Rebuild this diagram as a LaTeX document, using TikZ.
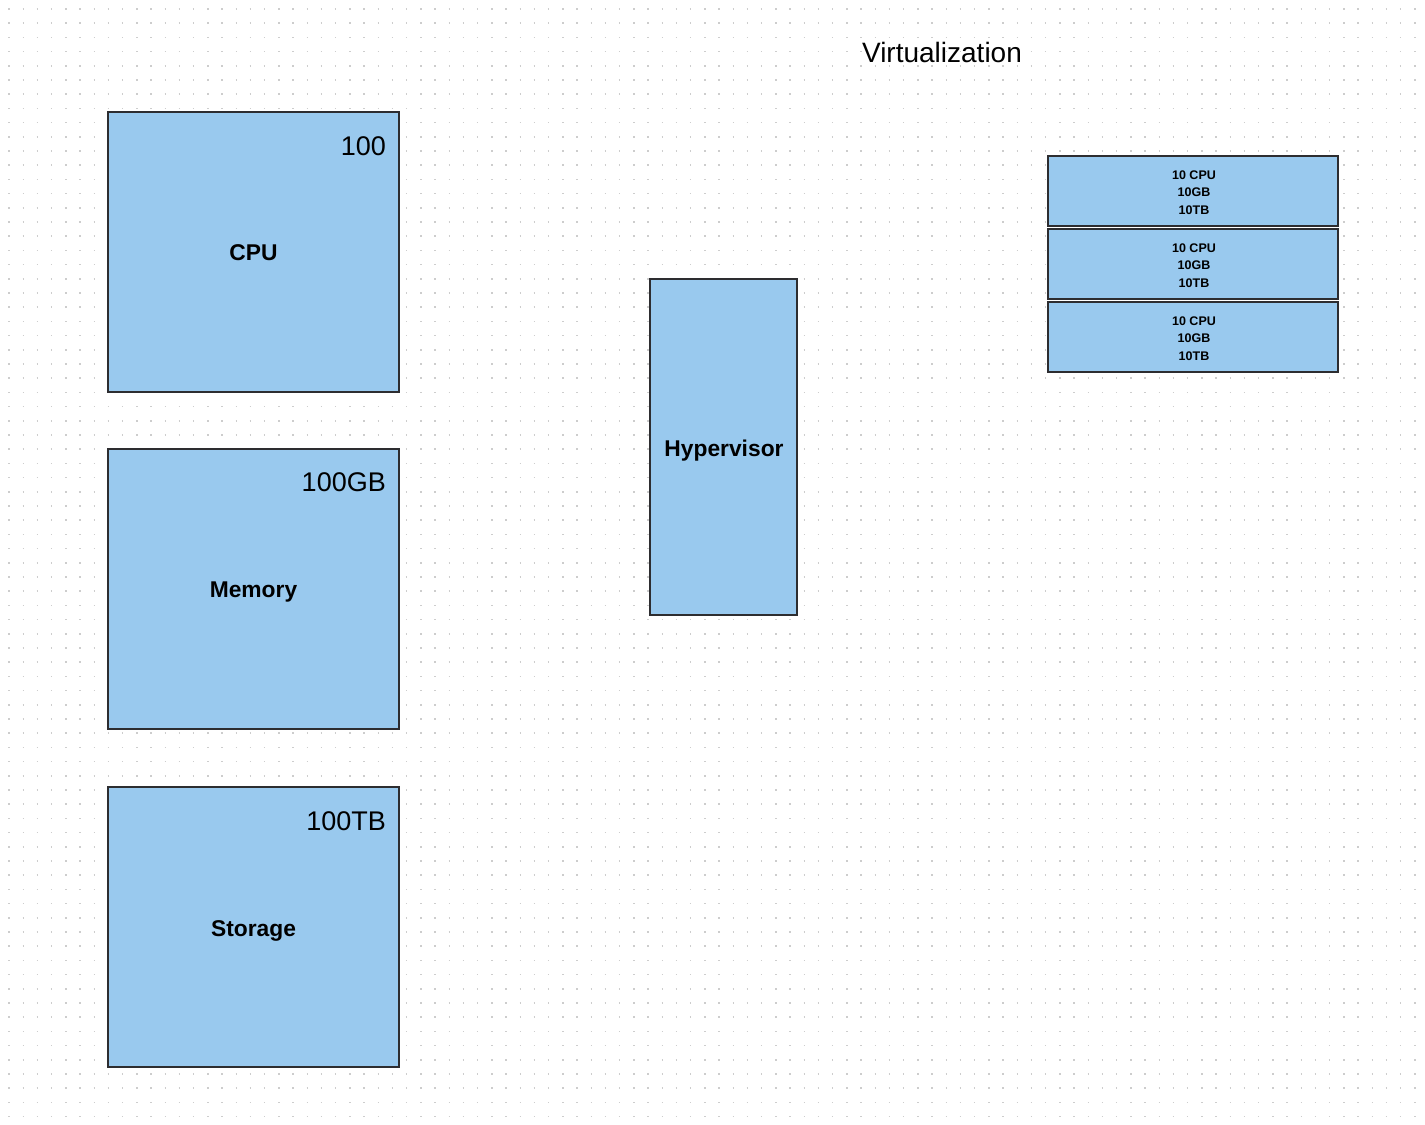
\documentclass[tikz,border=0pt]{standalone}
\usepackage{fontspec}
\setmainfont{Liberation Sans}
\definecolor{BoxClr}{RGB}{153,201,238}
\definecolor{EdgeClr}{RGB}{45,45,48}
\definecolor{DotClr}{RGB}{205,205,205}

\tikzset{
  res/.style={draw=EdgeClr,fill=BoxClr,line width=1.8pt,inner sep=0pt},
  big/.style={font=\bfseries\fontsize{22.8}{27}\selectfont},
  amount/.style={anchor=base east,inner sep=0pt,font=\fontsize{27}{32}\selectfont},
  vmtxt/.style={font=\bfseries\fontsize{12.5}{17.5}\selectfont,align=center}
}

\begin{document}
\begin{tikzpicture}[x=1pt,y=-1pt]
\useasboundingbox (0,0) rectangle (1425,1125);

% dotted canvas
\foreach \r in {0,...,78}
  \draw[DotClr,line width=1.5pt,dash pattern=on 1.5pt off 12.7pt]
    (8.3,9+\r*14.2) -- (1425,9+\r*14.2);

\node[font=\fontsize{28}{33}\selectfont] (title) at (942,52) {Virtualization};

% physical resources
\node[res,minimum width=291pt,minimum height=280pt] (cpu) at (253.5,252) {};
\node[res,minimum width=291pt,minimum height=280pt] (mem) at (253.5,589) {};
\node[res,minimum width=291pt,minimum height=280pt] (store) at (253.5,927) {};
\node[big] (cpuL) at (253.5,253) {CPU};
\node[big] (memL) at (253.5,592) {Memory};
\node[big] (storeL) at (253.5,931) {Storage};

\node[amount] (cpuN) at (386,155) {100};
\node[amount] (memN) at (386,491) {100GB};
\node[amount] (storeN) at (386,830) {100TB};

\node[res,minimum width=147pt,minimum height=336pt] (hyp) at (723.5,447) {};
\node[big] (hypL) at (724,451) {Hypervisor};

% virtual machines
\foreach \i/\y in {1/191,2/264,3/337}{
  \node[res,minimum width=290pt,minimum height=70pt] (vm\i) at (1193,\y) {};
  \node[vmtxt] (vm\i L) at (1194,\y+1.5) {10 CPU\\10GB\\10TB};
}

\end{tikzpicture}
\end{document}
